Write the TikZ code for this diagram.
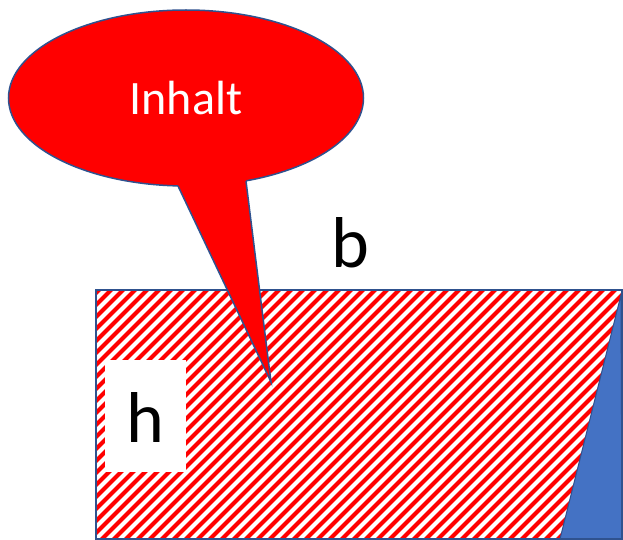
\documentclass[tikz,border=0pt]{standalone}
\usepackage{fontspec}
\setmainfont{Carlito}
\definecolor{rahmenblau}{HTML}{2F528F}
\definecolor{flaechenblau}{HTML}{4472C4}

\begin{document}
\begin{tikzpicture}[x=1pt,y=-1pt,
	rand/.style={draw=rahmenblau, line width=1.5pt},
	schraffur/.style={draw=red, line width=4.2pt},
	gross/.style={font=\fontsize{72}{80}\selectfont, inner sep=0pt, anchor=base}]
			\useasboundingbox (0,0) rectangle (623,540);
			\begin{scope}
				\clip (96,290) rectangle (622,539);
				\foreach \i in {-264,-252,...,636}
					\draw[schraffur] (\i,545) -- ++(260,-260);
			\end{scope}
			\fill[white] (105,360) rectangle (186,472);
			\node[gross] (hoehe) at (145,442) {h};
			\filldraw[fill=flaechenblau, draw=rahmenblau, line width=1pt] (621,295) -- (560,539) -- (622,539) -- cycle;
			\draw[rand] (96,290) rectangle (622,539);
			\node[gross] (breite) at (350,267) {b};
			\fill[red] (186,98) ellipse[x radius=177.5, y radius=88];
			\draw[rand] (186,98) ellipse[x radius=177.5, y radius=88];
			\coordinate (spitze) at (271,382);
			\fill[red] (178,186) -- (spitze) -- (246,181) -- (246,170) -- (178,170) -- cycle;
			\draw[rand, line join=miter] (178,186) -- (spitze) -- (246,181);
			\node[font=\fontsize{48}{56}\selectfont, text=white, anchor=base, inner sep=0pt] (inhalt) at (186,115) {Inhalt};
		\end{tikzpicture}
\end{document}
